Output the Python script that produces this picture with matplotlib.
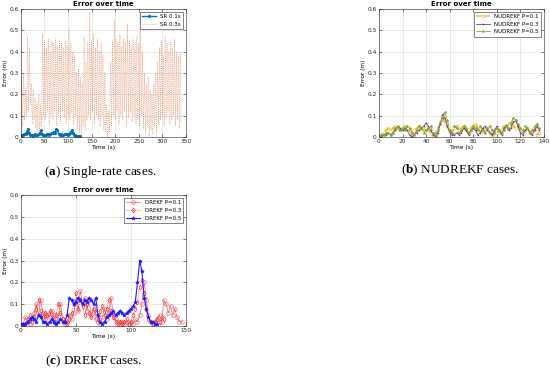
import numpy as np
import matplotlib
matplotlib.use("Agg")
from matplotlib import pyplot as plt

plt.rcParams['mathtext.fontset'] = 'custom'
plt.rcParams['mathtext.rm'] = 'Liberation Serif'
plt.rcParams['mathtext.bf'] = 'Liberation Serif:bold'

sr03 = [0.02, 0.28, 0.05, 0.30, 0.08, 0.22,
        0.10, 0.47, 0.12, 0.42, 0.15,
        0.25, 0.06, 0.22, 0.08, 0.18, 0.04, 0.16,
        0.02, 0.20, 0.00, 0.15, 0.05,
        0.48, 0.10, 0.45, 0.08, 0.42, 0.12, 0.46, 0.06, 0.40, 0.10, 0.45, 0.08, 0.44, 0.12, 0.46, 0.05,
        0.43, 0.10, 0.45, 0.07, 0.44, 0.12, 0.42, 0.09, 0.45, 0.06, 0.43, 0.10, 0.50, 0.08, 0.44, 0.11,
        0.40, 0.06, 0.38, 0.10, 0.30, 0.04,
        0.32, 0.02, 0.28, 0.00, 0.25, 0.05, 0.47, 0.03, 0.35, 0.08, 0.44, 0.10,
        0.58, 0.08, 0.45, 0.12, 0.48, 0.06, 0.42, 0.10, 0.46, 0.08, 0.40, 0.05, 0.44, 0.10, 0.38, 0.03, 0.30, 0.02,
        0.15, 0.00, 0.12, 0.02, 0.35,
        0.05, 0.45, 0.10, 0.55, 0.08, 0.46, 0.12, 0.44, 0.06, 0.48, 0.10, 0.42, 0.08, 0.46, 0.12, 0.44, 0.05,
        0.53, 0.09, 0.45, 0.11, 0.43, 0.07, 0.46, 0.10, 0.42, 0.06, 0.47, 0.08, 0.44, 0.05, 0.50, 0.10, 0.40,
        0.04, 0.30, 0.02, 0.25, 0.05, 0.28, 0.00, 0.22, 0.03, 0.20, 0.01, 0.25, 0.05, 0.30, 0.02, 0.35,
        0.06, 0.42, 0.08, 0.45, 0.10, 0.38, 0.05, 0.47, 0.09, 0.44, 0.12, 0.40, 0.06, 0.45, 0.08, 0.42,
        0.10, 0.46, 0.05, 0.40, 0.08, 0.38, 0.04, 0.40, 0.06]
sr01 = [0.005, 0.008, 0.010, 0.012, 0.015, 0.025, 0.035, 0.020, 0.010, 0.008,
        0.006, 0.010, 0.012, 0.008, 0.010, 0.015, 0.018, 0.030, 0.015, 0.010,
        0.008, 0.010, 0.012, 0.015, 0.010, 0.012, 0.018, 0.020, 0.025, 0.020,
        0.035, 0.030, 0.015, 0.010, 0.012, 0.008, 0.010, 0.012, 0.015, 0.012,
        0.010, 0.012, 0.020, 0.030, 0.018, 0.010, 0.008, 0.006, 0.005, 0.004, 0.003]

# (b) NUDREKF, every 2 s
nu01 = [0.00, 0.01, 0.02, 0.03, 0.04, 0.03, 0.04, 0.05, 0.04, 0.03, 0.04,
        0.05, 0.04, 0.03, 0.02, 0.03, 0.04, 0.05, 0.04, 0.03, 0.04,
        0.03, 0.02, 0.01, 0.02, 0.04, 0.06, 0.08, 0.07, 0.05, 0.03,
        0.02, 0.04, 0.05, 0.03, 0.04, 0.05, 0.03, 0.02, 0.04, 0.05,
        0.06, 0.04, 0.03, 0.02, 0.03, 0.04, 0.02, 0.01, 0.02, 0.03,
        0.02, 0.03, 0.05, 0.04, 0.06, 0.07, 0.05, 0.04, 0.05, 0.03,
        0.02, 0.03, 0.04, 0.02, 0.03, 0.04, 0.01, 0.02]
nu03 = [0.00, 0.00, 0.01, 0.01, 0.02, 0.01, 0.02, 0.03, 0.05, 0.04, 0.03,
        0.04, 0.03, 0.01, 0.00, 0.01, 0.02, 0.03, 0.04, 0.05, 0.065,
        0.05, 0.03, 0.01, 0.00, 0.02, 0.06, 0.105, 0.09, 0.05, 0.02,
        0.01, 0.01, 0.02, 0.01, 0.02, 0.04, 0.03, 0.01, 0.03, 0.04,
        0.03, 0.01, 0.02, 0.04, 0.05, 0.03, 0.02, 0.01, 0.03, 0.05,
        0.03, 0.01, 0.04, 0.055, 0.03, 0.04, 0.07, 0.075, 0.05, 0.02,
        0.01, 0.03, 0.04, 0.02, 0.01, 0.03, 0.05, 0.03]
nu05 = [0.00, 0.01, 0.01, 0.02, 0.02, 0.01, 0.02, 0.04, 0.05, 0.03, 0.04,
        0.03, 0.05, 0.04, 0.02, 0.01, 0.03, 0.05, 0.04, 0.02, 0.03,
        0.04, 0.05, 0.02, 0.01, 0.03, 0.07, 0.09, 0.115, 0.08, 0.03,
        0.02, 0.05, 0.04, 0.02, 0.03, 0.05, 0.04, 0.02, 0.03, 0.05,
        0.04, 0.03, 0.05, 0.03, 0.02, 0.04, 0.05, 0.03, 0.02, 0.04,
        0.03, 0.02, 0.03, 0.05, 0.04, 0.06, 0.09, 0.08, 0.06, 0.04,
        0.03, 0.05, 0.04, 0.02, 0.03, 0.05, 0.06, 0.04]

# (c) DREKF, every 2 s
dr01 = [0.00, 0.01, 0.04, 0.02, 0.01, 0.03, 0.06, 0.10, 0.05, 0.12, 0.06,
        0.03, 0.05, 0.04, 0.07, 0.05, 0.02, 0.04, 0.10, 0.03, 0.01,
        0.02, 0.05, 0.03, 0.06, 0.12, 0.07, 0.16, 0.10, 0.13, 0.07,
        0.12, 0.05, 0.08, 0.03, 0.02, 0.01, 0.04, 0.08, 0.03, 0.06,
        0.13, 0.05, 0.03, 0.02, 0.01, 0.02, 0.01, 0.02, 0.01, 0.02,
        0.01, 0.03, 0.02, 0.05, 0.10, 0.20, 0.12, 0.05, 0.02, 0.01,
        0.02, 0.03, 0.05, 0.02, 0.12, 0.10, 0.06, 0.09, 0.05, 0.08,
        0.04, 0.02, 0.02]
dr03 = [0.00, 0.00, 0.01, 0.03, 0.05, 0.02, 0.04, 0.08, 0.12, 0.07, 0.04,
        0.06, 0.05, 0.07, 0.04, 0.02, 0.05, 0.10, 0.06, 0.03, 0.02,
        0.01, 0.03, 0.06, 0.10, 0.15, 0.08, 0.12, 0.09, 0.05, 0.10,
        0.06, 0.04, 0.08, 0.06, 0.03, 0.07, 0.09, 0.05, 0.08, 0.12,
        0.07, 0.04, 0.02, 0.01, 0.02, 0.01, 0.02, 0.03, 0.01, 0.02,
        0.05, 0.08, 0.11, 0.18, 0.21, 0.15, 0.08, 0.03, 0.02, 0.01,
        0.02, 0.03, 0.02, 0.04, 0.03]
dr05 = [0.01, 0.01, 0.01, 0.02, 0.03, 0.04, 0.03, 0.02, 0.05, 0.04, 0.02,
        0.02, 0.01, 0.02, 0.03, 0.02, 0.01, 0.02, 0.03, 0.02, 0.02,
        0.05, 0.13, 0.12, 0.10, 0.11, 0.13, 0.12, 0.10, 0.12, 0.11,
        0.13, 0.12, 0.10, 0.13, 0.05, 0.02, 0.01, 0.02, 0.04, 0.05,
        0.06, 0.07, 0.05, 0.06, 0.07, 0.06, 0.05, 0.06, 0.07, 0.08,
        0.09, 0.11, 0.20, 0.30, 0.25, 0.13, 0.08, 0.04, 0.02, 0.02,
        0.01, 0.01]

captions = [r"($\mathbf{a}$) Single-rate cases.",
            r"($\mathbf{b}$) NUDREKF cases.",
            r"($\mathbf{c}$) DREKF cases."]

fs = 4.2
fig = plt.figure(figsize=(5.5, 3.69), dpi=100)


def style(ax, xmax, xstep):
    ax.set_xlim(0, xmax)
    ax.set_ylim(0, 0.6)
    ax.set_xticks(np.arange(0, xmax + 1, xstep))
    ax.set_yticks(np.arange(0, 0.61, 0.1))
    ax.set_yticklabels(['0', '0.1', '0.2', '0.3', '0.4', '0.5', '0.6'])
    ax.tick_params(labelsize=fs, direction='in', length=2, width=0.4, pad=1.5,
                   top=True, right=True, colors='#262626')
    ax.grid(True, color='#d8d8d8', lw=0.4)
    for s in ax.spines.values():
        s.set_linewidth(0.4)
        s.set_color('#262626')
    ax.set_title("Error over time", fontsize=5, fontweight='bold', pad=2)
    ax.set_xlabel("Time (s)", fontsize=fs, labelpad=1)
    ax.set_ylabel("Error (m)", fontsize=fs, labelpad=1)


def legend(ax):
    lg = ax.legend(loc='upper right', fontsize=4, frameon=True, fancybox=False,
                   edgecolor='#262626', handlelength=2.5, framealpha=1)
    lg.get_frame().set_linewidth(0.4)


# (a)
ax1 = fig.add_axes([0.038, 0.629, 0.300, 0.347])
ax1.plot(np.arange(len(sr01)) * 2.5, sr01, '.-', color='#0072BD', lw=1.0, ms=2.5,
         label='SR 0.1s')
ax1.plot(np.arange(len(sr03)) * 2, sr03, ':', color='#D95319', lw=0.5, alpha=0.65,
         label='SR 0.3s')
style(ax1, 350, 50)
legend(ax1)

# (b)
ax2 = fig.add_axes([0.689, 0.629, 0.300, 0.347])
t = np.arange(len(nu01)) * 2
ax2.plot(t, nu01, '--o', color='#EDB120', lw=1.1, ms=2.2, mfc='none', mew=0.4,
         alpha=0.85, label='NUDREKF P=0.1')
ax2.plot(t, nu03, '-+', color='#7E2F8E', lw=0.6, ms=2, mew=0.4, label='NUDREKF P=0.3')
ax2.plot(t, nu05, '-.*', color='#77AC30', lw=0.6, ms=2, mew=0.4, label='NUDREKF P=0.5')
style(ax2, 140, 20)
legend(ax2)

# (c)
ax3 = fig.add_axes([0.038, 0.1165, 0.300, 0.355])
ax3.plot(np.arange(len(dr01)) * 2, dr01, '-o', color='#e8606a', lw=0.5, ms=2.6,
         mfc='none', mew=0.5, label='DREKF P=0.1')
ax3.plot(np.arange(len(dr03)) * 2, dr03, ':d', color='#ff3030', lw=0.6, ms=2.6,
         mfc='none', mew=0.5, label='DREKF P=0.3')
ax3.plot(np.arange(len(dr05)) * 2, dr05, '-*', color='#1a1aff', lw=0.8, ms=2.8,
         mew=0.4, label='DREKF P=0.5')
style(ax3, 150, 50)
legend(ax3)

# captions
for (x, y), c in zip([(100, 172), (460, 170), (94, 361)], captions):
    fig.text(x / 550, 1 - y / 369, c, fontsize=9.5, family='Liberation Serif',
             ha='center', va='center')

fig.savefig("out.png", dpi=100)
